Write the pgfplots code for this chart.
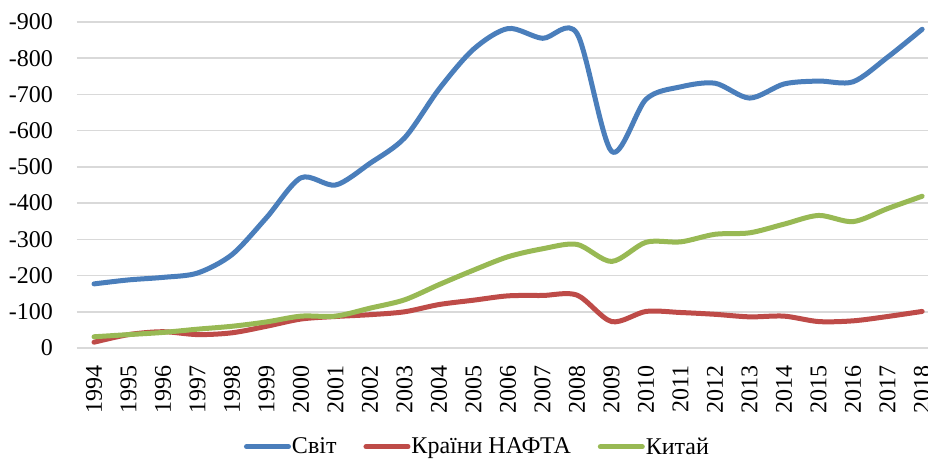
\documentclass[border=0pt]{standalone}
\usepackage{fontspec}
\setmainfont{Liberation Serif}
\usepackage{pgfplots}
\pgfplotsset{compat=1.18}

\definecolor{svit}{HTML}{4A7EBB}
\definecolor{nafta}{HTML}{BE4B48}
\definecolor{kytai}{HTML}{98B954}
\definecolor{gridc}{HTML}{D9D9D9}

\newcommand{\chartfont}{\fontsize{24}{28}\selectfont}

\begin{document}
\begin{tikzpicture}
\begin{axis}[
  scale only axis,
  width=851pt, height=326pt,
  xmin=1993.507, xmax=2018.17,
  ymin=0, ymax=900,
  axis line style={draw=none},
  major tick length=0pt,
  ymajorgrids,
  grid style={gridc,line width=1.5pt},
  ytick={0,100,...,900},
  yticklabels={0,-100,-200,-300,-400,-500,-600,-700,-800,-900},
  xtick={1994,...,2018},
  tick label style={font=\chartfont},
  xticklabel style={/pgf/number format/1000 sep=,
    /pgf/number format/assume math mode=true,
    inner sep=0pt, yshift=-17pt, rotate=90, anchor=east},
  yticklabel style={inner sep=0pt, xshift=-24pt, anchor=east},
  clip=false,
  legend columns=3,
  legend style={draw=none, fill=none, font=\chartfont,
    at={(rel axis cs:0.47,-0.303)}, anchor=center,
    nodes={inner sep=1pt},
    /tikz/every even column/.append style={column sep=26pt}},
  legend image code/.code={\draw[#1] (0pt,0pt) -- (42pt,0pt);},
  every axis plot/.append style={smooth, line width=5pt, line cap=round, line join=round},
]
\addplot[svit] coordinates {
 (1994,177) (1995,188) (1996,195) (1997,207) (1998,258) (1999,360)
 (2000,470) (2001,450) (2002,510) (2003,580) (2004,715) (2005,825)
 (2006,882) (2007,855) (2008,868) (2009,543) (2010,687) (2011,721)
 (2012,731) (2013,690) (2014,729) (2015,737) (2016,735) (2017,803)
 (2018,880)};
\addlegendentry{Світ}
\addplot[nafta] coordinates {
 (1994,16) (1995,37) (1996,45) (1997,37) (1998,42) (1999,60)
 (2000,80) (2001,87) (2002,92) (2003,100) (2004,120) (2005,132)
 (2006,144) (2007,145) (2008,146) (2009,73) (2010,101) (2011,98)
 (2012,93) (2013,86) (2014,88) (2015,73) (2016,75) (2017,87)
 (2018,101)};
\addlegendentry{Країни НАФТА}
\addplot[kytai] coordinates {
 (1994,31) (1995,37) (1996,43) (1997,52) (1998,60) (1999,72)
 (2000,88) (2001,88) (2002,110) (2003,133) (2004,175) (2005,215)
 (2006,252) (2007,274) (2008,286) (2009,239) (2010,292) (2011,293)
 (2012,314) (2013,318) (2014,342) (2015,366) (2016,349) (2017,385)
 (2018,419)};
\addlegendentry{Китай}
\coordinate (o) at (rel axis cs:0,0);
\end{axis}
\pgfresetboundingbox
\path[use as bounding box] ([shift={(-77pt,-111pt)}]o) rectangle ([shift={(851pt,348pt)}]o);
\end{tikzpicture}
\end{document}
